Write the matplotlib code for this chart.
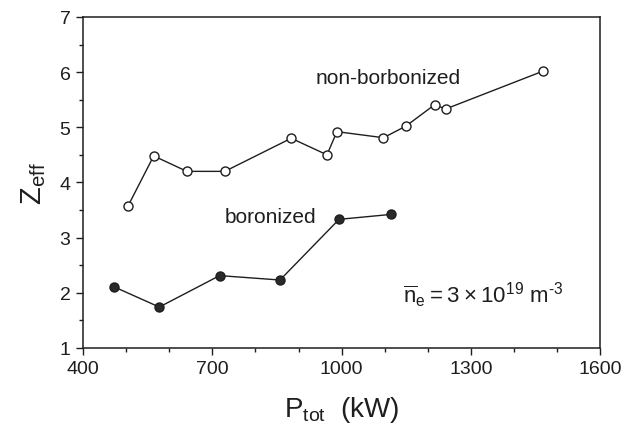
import matplotlib
matplotlib.use('Agg')
import matplotlib.pyplot as plt
from matplotlib.ticker import MultipleLocator

plt.rcParams['font.family'] = ['Liberation Sans', 'DejaVu Sans']
plt.rcParams['mathtext.default'] = 'regular'

# total heating power (kW) vs effective charge
p_nonboron = [505, 564, 641, 729, 883, 966, 989, 1097, 1149, 1216, 1241, 1468]
z_nonboron = [3.58, 4.48, 4.2, 4.2, 4.8, 4.5, 4.92, 4.81, 5.02, 5.41, 5.33, 6.02]

p_boron = [471, 577, 717, 857, 994, 1115]
z_boron = [2.11, 1.74, 2.31, 2.23, 3.33, 3.42]

x_ticks = [400, 700, 1000, 1300, 1600]
y_ticks = [1, 2, 3, 4, 5, 6, 7]

ink = '#1e1e1e'

fig = plt.figure(figsize=(6.24, 4.27), dpi=100)
ax = fig.add_axes([0.133, 0.183, 0.829, 0.775])

ax.plot(p_nonboron, z_nonboron, '-o', color=ink, lw=1.0,
        mfc='white', mec=ink, mew=1.0, ms=6.5)
ax.plot(p_boron, z_boron, '-o', color=ink, lw=1.0,
        mfc='#2a2a2a', mec=ink, mew=1.0, ms=6.5)

ax.set_xlim(400, 1600)
ax.set_ylim(1, 7)
ax.set_xticks(x_ticks)
ax.set_yticks(y_ticks)
ax.xaxis.set_minor_locator(MultipleLocator(100))
ax.yaxis.set_minor_locator(MultipleLocator(0.5))
ax.tick_params(which='major', direction='out', length=5, width=1.0,
               labelsize=14, colors=ink, pad=4)
ax.tick_params(which='minor', direction='out', length=3, width=1.0, colors=ink)
for s in ax.spines.values():
    s.set_linewidth(1.1)
    s.set_color(ink)

ax.set_xlabel(r'$P_{tot}$  (kW)', fontsize=20, color=ink, labelpad=12)
ax.set_ylabel(r'$Z_{eff}$', fontsize=21, color=ink, labelpad=8)

ax.text(1108, 5.91, 'non-borbonized', fontsize=15, color=ink,
        ha='center', va='center')
ax.text(836, 3.38, 'boronized', fontsize=15, color=ink,
        ha='center', va='center')
ax.text(1328, 1.98, '$\\overline{n}_e = 3 \\times 10^{19}$ m$^{\u20103}$',
        fontsize=16, color=ink, ha='center', va='center')

fig.savefig('out.png', dpi=100)
